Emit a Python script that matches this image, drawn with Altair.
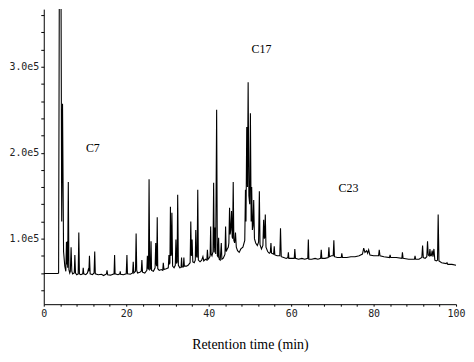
import altair as alt
import pandas as pd

# Chromatogram trace: (retention time in min, signal in units of 1e5)
seg_0_20 = [
    (0.0, 0.595), (3.45, 0.595), (3.6, 0.60), (3.8, 4.5), (4.15, 4.5), (4.35, 1.2),
    (4.55, 2.57), (4.8, 0.85), (5.1, 0.68), (5.35, 0.62), (5.5, 0.96), (5.6, 0.70),
    (5.7, 0.97), (5.8, 0.66), (5.95, 1.66), (6.1, 0.64), (6.3, 0.60), (6.45, 0.62),
    (6.63, 0.90), (6.8, 0.62), (7.0, 0.59), (7.4, 0.60), (7.54, 0.81), (7.7, 0.60),
    (8.0, 0.58), (8.35, 0.59), (8.5, 1.07), (8.65, 0.59), (9.0, 0.58), (9.45, 0.59),
    (9.57, 0.66), (9.7, 0.59), (10.2, 0.58), (10.6, 0.60), (10.8, 0.64), (10.95, 0.62),
    (11.08, 0.80), (11.25, 0.59), (11.8, 0.58), (12.2, 0.60), (12.36, 0.85), (12.5, 0.59),
    (13.2, 0.58), (14.0, 0.585), (14.5, 0.57), (15.2, 0.59), (15.35, 0.63), (15.5, 0.58),
    (16.2, 0.575), (17.05, 0.59), (17.18, 0.81), (17.3, 0.59), (18.0, 0.58), (18.45, 0.59),
    (18.55, 0.62), (18.65, 0.585), (19.3, 0.58), (20.0, 0.59), (20.17, 0.81), (20.3, 0.59),
]
seg_20_40 = [
    (21.0, 0.585), (21.55, 0.60), (21.7, 0.73), (21.85, 0.60), (22.25, 0.62), (22.4, 1.06),
    (22.55, 0.63), (22.75, 0.60), (23.3, 0.61), (23.65, 0.62), (23.8, 0.75), (23.95, 0.61),
    (24.5, 0.60), (25.0, 0.63), (25.13, 0.80), (25.25, 0.66), (25.4, 0.64), (25.54, 1.69),
    (25.7, 0.64), (25.9, 0.65), (26.02, 0.97), (26.15, 0.63), (26.6, 0.62), (27.0, 0.66),
    (27.16, 0.95), (27.3, 0.70), (27.4, 0.68), (27.52, 1.25), (27.65, 0.65), (28.0, 0.63),
    (28.5, 0.64), (28.85, 0.63), (28.99, 0.72), (29.15, 0.64), (29.7, 0.65), (30.2, 0.66),
    (30.36, 0.81), (30.5, 0.70), (30.6, 0.72), (30.72, 1.37), (30.85, 0.80), (30.95, 0.82),
    (31.08, 1.30), (31.25, 0.68), (31.6, 0.66), (31.9, 0.69), (32.05, 0.99), (32.2, 0.71),
    (32.35, 0.73), (32.48, 1.51), (32.65, 0.69), (33.0, 0.66), (33.3, 0.665), (33.42, 0.78),
    (33.55, 0.67), (33.85, 0.67), (33.98, 0.78), (34.1, 0.68), (34.6, 0.68), (35.0, 0.69),
    (35.5, 0.72), (35.66, 1.20), (35.8, 0.80), (35.9, 0.82), (35.98, 0.99), (36.15, 0.73),
    (36.5, 0.72), (36.75, 0.75), (36.87, 1.10), (37.0, 0.80), (37.2, 0.78), (37.35, 1.57),
    (37.5, 0.75), (37.9, 0.73), (38.3, 0.75), (38.6, 0.79), (38.8, 0.74), (39.2, 0.76),
    (39.55, 0.75), (39.69, 0.87), (39.85, 0.76),
]
seg_40_60 = [
    (40.2, 0.78), (40.35, 0.80), (40.48, 1.14), (40.6, 0.82), (40.8, 0.80), (41.05, 0.85),
    (41.2, 1.65), (41.35, 0.84), (41.52, 1.13), (41.7, 0.82), (41.93, 2.50), (42.1, 0.80),
    (42.25, 0.79), (42.41, 1.01), (42.55, 0.76), (42.8, 0.75), (43.06, 0.95), (43.2, 0.76),
    (43.5, 0.77), (43.8, 0.80), (43.95, 0.82), (44.1, 1.14), (44.25, 0.85), (44.5, 0.88),
    (44.75, 0.90), (44.9, 0.95), (45.06, 1.36), (45.2, 1.05), (45.35, 1.10), (45.54, 1.32),
    (45.7, 1.02), (45.8, 1.00), (45.95, 1.66), (46.1, 0.98), (46.3, 0.95), (46.5, 1.07),
    (46.7, 0.90), (47.0, 0.86), (47.4, 0.84), (47.8, 0.88), (48.3, 0.90), (48.75, 0.98),
    (48.92, 1.57), (49.05, 1.20), (49.23, 2.30), (49.4, 1.60), (49.57, 2.82), (49.75, 1.50),
    (49.95, 1.40), (50.12, 2.46), (50.3, 1.20), (50.43, 1.60), (50.6, 1.10), (50.75, 1.15),
    (50.92, 1.45), (51.1, 1.00), (51.4, 0.95), (51.8, 0.92), (52.1, 0.96), (52.29, 1.55),
    (52.45, 0.93), (52.8, 0.88), (53.15, 0.92), (53.33, 1.22), (53.5, 1.00), (53.6, 1.02),
    (53.73, 1.28), (53.9, 0.90), (54.3, 0.85), (54.7, 0.83), (54.95, 0.84), (55.1, 0.95),
    (55.25, 0.83), (55.75, 0.82), (55.9, 0.91), (56.05, 0.81), (56.6, 0.80), (57.25, 0.80),
    (57.42, 1.12), (57.6, 0.79), (58.2, 0.78), (58.8, 0.77), (59.2, 0.78), (59.33, 0.84),
    (59.45, 0.77), (60.0, 0.77),
]
seg_60_100 = [
    (60.75, 0.77), (60.89, 0.88), (61.05, 0.77), (61.8, 0.76), (62.6, 0.77), (63.3, 0.76),
    (64.03, 0.77), (64.17, 0.99), (64.3, 0.76), (65.0, 0.76), (65.8, 0.77), (66.5, 0.76),
    (67.15, 0.77), (67.3, 0.87), (67.45, 0.77), (68.2, 0.77), (69.0, 0.78), (69.16, 0.90),
    (69.3, 0.79), (69.8, 0.80), (70.2, 0.80), (70.36, 0.98), (70.5, 0.79), (71.2, 0.78),
    (72.15, 0.78), (72.29, 0.83), (72.45, 0.78), (73.5, 0.78), (74.5, 0.79), (75.5, 0.79),
    (76.5, 0.80), (77.3, 0.82), (77.6, 0.89), (77.9, 0.84), (78.3, 0.86), (78.55, 0.83),
    (78.8, 0.87), (79.1, 0.81), (80.0, 0.80), (81.2, 0.80), (81.37, 0.87), (81.55, 0.80),
    (82.5, 0.79), (83.85, 0.78), (84.0, 0.81), (84.15, 0.78), (85.5, 0.78), (86.85, 0.77),
    (86.99, 0.84), (87.15, 0.77), (88.5, 0.76), (89.9, 0.76), (90.05, 0.80), (90.2, 0.76),
    (91.0, 0.76), (91.7, 0.78), (91.88, 0.92), (92.05, 0.78), (92.5, 0.77), (92.9, 0.79),
    (93.08, 0.97), (93.25, 0.81), (93.5, 0.80), (93.66, 0.88), (93.8, 0.80), (94.0, 0.80),
    (94.2, 0.86), (94.4, 0.79), (94.63, 0.88), (94.85, 0.75), (95.2, 0.74), (95.5, 0.75),
    (95.66, 1.28), (95.85, 0.74), (96.5, 0.72), (97.6, 0.71), (97.8, 0.72), (98.0, 0.70),
    (99.0, 0.70), (100.0, 0.69),
]

peak_labels = ["C7", "C17", "C23"]
label_time = [11.9, 52.8, 73.9]
label_signal = [2.056e5, 3.21e5, 1.586e5]

x_ticks = list(range(0, 101, 4))
y_ticks = [40000, 60000, 80000, 100000, 120000, 140000, 160000, 180000, 200000,
           220000, 240000, 260000, 280000, 300000, 320000, 340000, 360000]

rows = seg_0_20 + seg_20_40 + seg_40_60 + seg_60_100
trace = pd.DataFrame({"time": [r[0] for r in rows], "signal": [r[1] * 1e5 for r in rows]})
labels = pd.DataFrame({"label": peak_labels, "time": label_time, "signal": label_signal})

x_scale = alt.Scale(domain=[0, 100], nice=False)
y_scale = alt.Scale(domain=[23700, 367100], nice=False, zero=False)

x_axis = alt.Axis(
    title="Retention time (min)", values=x_ticks,
    labelExpr="datum.value % 20 == 0 ? datum.label : ''",
    labelOverlap=False,
    grid=False, tickSize=2, labelPadding=2, labelFont="DejaVu Sans Mono", labelFontSize=10,
    labelColor="#222", titleFont="Liberation Serif", titleFontSize=14, titleFontWeight="normal",
    titleColor="black", titlePadding=20, domainColor="black", tickColor="black",
    labelFlush=False)
y_axis = alt.Axis(
    title=None, values=y_ticks,
    labelExpr="datum.value % 100000 == 0 ? replace(format(datum.value, '.1e'), '+', '') : ''",
    labelOverlap=False,
    grid=False, tickSize=3, labelPadding=2, labelFont="DejaVu Sans Mono", labelFontSize=10,
    labelColor="#222", domainColor="black", tickColor="black", labelFlush=False)

line = alt.Chart(trace).mark_line(color="black", strokeWidth=1.1, clip=True).encode(
    x=alt.X("time:Q", scale=x_scale, axis=x_axis),
    y=alt.Y("signal:Q", scale=y_scale, axis=y_axis),
)

text = alt.Chart(labels).mark_text(font="Liberation Serif", fontSize=12, color="black").encode(
    x=alt.X("time:Q", scale=x_scale, axis=x_axis),
    y=alt.Y("signal:Q", scale=y_scale, axis=y_axis),
    text="label:N",
)

chart = alt.layer(line, text).properties(
    width=415, height=297,
    padding={"left": 0, "top": 0, "right": 0, "bottom": 0},
).configure_view(stroke=None)

chart.save("out.html", embed_options={"renderer": "svg", "actions": False})
